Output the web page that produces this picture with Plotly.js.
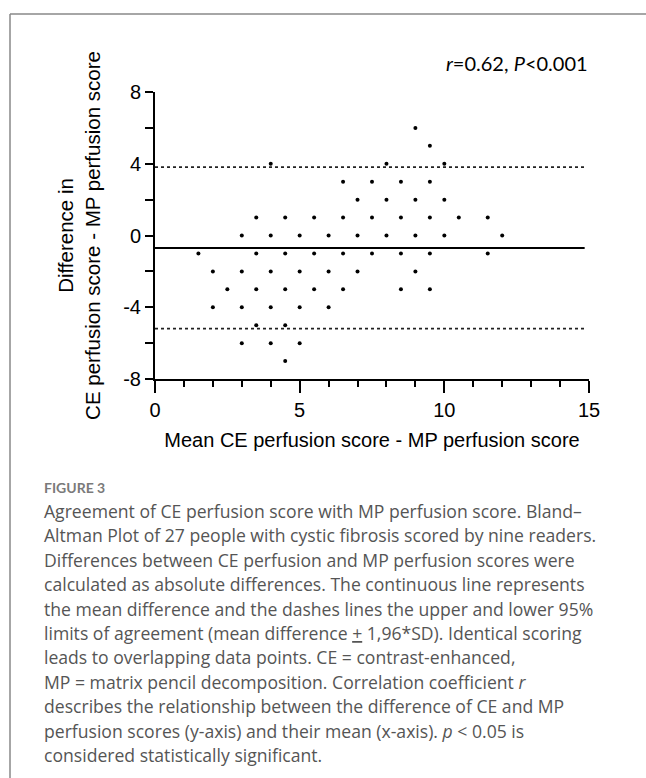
<!DOCTYPE html>
<html>
<head>
<meta charset="utf-8">
<script src="https://cdn.plot.ly/plotly-3.0.1.min.js"></script>
<style>
  html, body { margin: 0; padding: 0; background: #fff; }
  #chart { width: 646px; height: 778px; }
</style>
</head>
<body>
<div id="chart"></div>
<script>
// ---- data ----
var meanScore = [
  9,
  9.5,
  4, 8, 10,
  6.5, 7.5, 8.5, 9.5,
  7, 8, 9, 10,
  3.5, 4.5, 5.5, 6.5, 7.5, 8.5, 9.5, 10.5, 11.5,
  3, 4, 5, 6, 7, 8, 9, 10, 12,
  1.5, 3.5, 4.5, 5.5, 6.5, 7.5, 8.5, 9.5, 11.5,
  2, 3, 4, 5, 6, 7, 9,
  2.5, 3.5, 4.5, 5.5, 6.5, 8.5, 9.5,
  2, 3, 4, 5, 6,
  3.5, 4.5,
  3, 4, 5,
  4.5
];
var diffScore = [
  6,
  5,
  4, 4, 4,
  3, 3, 3, 3,
  2, 2, 2, 2,
  1, 1, 1, 1, 1, 1, 1, 1, 1,
  0, 0, 0, 0, 0, 0, 0, 0, 0,
  -1, -1, -1, -1, -1, -1, -1, -1, -1,
  -2, -2, -2, -2, -2, -2, -2,
  -3, -3, -3, -3, -3, -3, -3,
  -4, -4, -4, -4, -4,
  -5, -5,
  -6, -6, -6,
  -7
];
var meanDifference = -0.69;
var upperLimit = 3.81;
var lowerLimit = -5.19;
var limitLineX = [0, 14.85];

var xTickVals = [0, 5, 10, 15];
var yTickVals = [-8, -4, 0, 4, 8];

var statText = "<i>r</i>=0.62, <i>P</i>&lt;0.001";
var xTitle = "Mean CE perfusion score - MP perfusion score";
var yTitle = "Difference in<br>CE perfusion score - MP perfusion score";
var figureLabel = "FIGURE 3";
var captionLines = [
  "Agreement of CE perfusion score with MP perfusion score. Bland–",
  "Altman Plot of 27 people with cystic fibrosis scored by nine readers.",
  "Differences between CE perfusion and MP perfusion scores were",
  "calculated as absolute differences. The continuous line represents",
  "the mean difference and the dashes lines the upper and lower 95%",
  "limits of agreement (mean difference <u>+</u> 1,96*SD). Identical scoring",
  "leads to overlapping data points. CE = contrast-enhanced,",
  "MP = matrix pencil decomposition. Correlation coefficient <i>r</i>",
  "describes the relationship between the difference of CE and MP",
  "perfusion scores (y-axis) and their mean (x-axis). <i>p</i> &lt; 0.05 is",
  "considered statistically significant."
];

// ---- layout geometry (pixels) ----
var W = 646, H = 778;
var M = { l: 155, r: 57, t: 92, b: 399 };
var pw = W - M.l - M.r, ph = H - M.t - M.b;
function px(x) { return (x - M.l) / pw; }
function py(y) { return (H - M.b - y) / ph; }

var traces = [
  {
    x: limitLineX, y: [upperLimit, upperLimit], mode: 'lines',
    line: { color: '#222', width: 1.6, dash: 'dot' }, hoverinfo: 'skip', showlegend: false
  },
  {
    x: limitLineX, y: [lowerLimit, lowerLimit], mode: 'lines',
    line: { color: '#222', width: 1.6, dash: 'dot' }, hoverinfo: 'skip', showlegend: false
  },
  {
    x: limitLineX, y: [meanDifference, meanDifference], mode: 'lines',
    line: { color: '#000', width: 2 }, hoverinfo: 'skip', showlegend: false
  },
  {
    x: meanScore, y: diffScore, mode: 'markers',
    marker: { color: '#000', size: 4 }, showlegend: false, cliponaxis: false
  }
];

var annotations = [
  {
    xref: 'paper', yref: 'paper', x: px(590), y: py(63), xanchor: 'right', yanchor: 'middle',
    text: statText, showarrow: false, font: { family: 'Lato, Carlito, sans-serif', size: 20, color: '#000' }
  },
  {
    xref: 'paper', yref: 'paper', x: px(42), y: py(487), xanchor: 'left', yanchor: 'middle',
    text: '<b>' + figureLabel + '</b>', showarrow: false,
    font: { family: 'Lato, sans-serif', size: 14, color: '#7a7a7a' }
  }
];
var lineStart = 511, lineStep = 24.4;
captionLines.forEach(function (t, i) {
  annotations.push({
    xref: 'paper', yref: 'paper', x: px(42), y: py(lineStart + i * lineStep),
    xanchor: 'left', yanchor: 'middle', text: t, showarrow: false,
    font: { family: 'Open Sans, Lato, sans-serif', size: 17.6, color: '#555' }
  });
});

var shapes = [
  { type: 'line', xref: 'paper', yref: 'paper', x0: px(10), x1: px(646), y0: py(14), y1: py(14),
    line: { color: '#888', width: 1.5 } },
  { type: 'line', xref: 'paper', yref: 'paper', x0: px(10), x1: px(10), y0: py(14), y1: py(778),
    line: { color: '#888', width: 1.5 } }
];

var axisFont = { family: 'Liberation Sans, Arial, sans-serif', size: 20, color: '#000' };

var layout = {
  width: W, height: H,
  margin: M,
  paper_bgcolor: '#fff', plot_bgcolor: '#fff',
  showlegend: false,
  font: axisFont,
  xaxis: {
    range: [0, 15], tickvals: xTickVals, ticktext: xTickVals.map(String),
    showgrid: false, zeroline: false, showline: true, linecolor: '#000', linewidth: 2,
    ticks: 'outside', ticklen: 12, tickwidth: 2, tickcolor: '#000',
    minor: { dtick: 1, ticks: 'outside', ticklen: 6, tickwidth: 2, tickcolor: '#000', showgrid: false },
    tickfont: axisFont,
    title: { text: xTitle, font: axisFont, standoff: 13 }
  },
  yaxis: {
    range: [-8, 8], tickvals: yTickVals, ticktext: yTickVals.map(String),
    showgrid: false, zeroline: false, showline: true, linecolor: '#000', linewidth: 2,
    ticks: 'outside', ticklen: 8, tickwidth: 2, tickcolor: '#000',
    minor: { dtick: 2, ticks: 'outside', ticklen: 8, tickwidth: 2, tickcolor: '#000', showgrid: false },
    tickfont: axisFont,
    title: { text: yTitle, font: { family: 'Liberation Sans, Arial, sans-serif', size: 20.5, color: '#000' }, standoff: 17 }
  },
  annotations: annotations,
  shapes: shapes
};

Plotly.newPlot('chart', traces, layout, { staticPlot: true, displayModeBar: false });
</script>
</body>
</html>
